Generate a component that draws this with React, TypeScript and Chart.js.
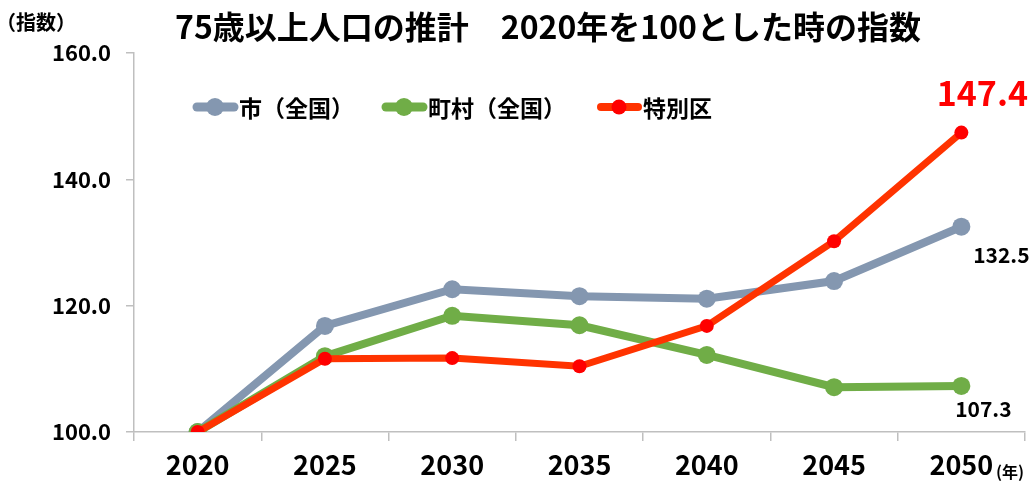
import React, { useEffect, useRef } from "react";
import { Chart, registerables } from "chart.js";
Chart.register(...registerables);

const years = ["2020", "2025", "2030", "2035", "2040", "2045", "2050"];
const cityValues = [100, 116.8, 122.6, 121.5, 121.1, 123.9, 132.5];
const townValues = [100, 112.0, 118.4, 116.9, 112.2, 107.1, 107.3];
const wardValues = [100, 111.6, 111.7, 110.4, 116.8, 130.2, 147.4];
const seriesNames = ["市（全国）", "町村（全国）", "特別区"];
const titleText = "75歳以上人口の推計　2020年を100とした時の指数";
const yUnitText = "（指数）";
const xUnitText = "(年)";

const FONT = "'Noto Sans CJK JP', 'Noto Sans', sans-serif";
const BLUE = "#8497b0";
const GREEN = "#70ad47";
const RED_LINE = "#ff3300";
const RED_PT = "#ff0000";
const AXIS = "#bfbfbf";

export default function App() {
  const ref = useRef<HTMLCanvasElement | null>(null);
  useEffect(() => {
    document.body.style.margin = "0";
    const canvas = ref.current;
    if (!canvas) return;

    const overlay = {
      id: "overlay",
      afterDraw(chart: any) {
        const ctx = chart.ctx;
        const xs = chart.scales.x;
        const ys = chart.scales.y;
        ctx.save();
        ctx.fillStyle = "#000";
        ctx.textBaseline = "middle";
        // title
        ctx.font = `bold 32px ${FONT}`;
        ctx.textAlign = "left";
        ctx.fillText(titleText, 175, 27);
        // y unit
        ctx.font = `bold 20px ${FONT}`;
        ctx.fillText(yUnitText, -4, 22);
        // x unit
        ctx.font = `bold 16px ${FONT}`;
        ctx.fillText(xUnitText, 996, 472);

        // legend
        const legend = [
          { x: 193, color: BLUE, pt: BLUE, r: 9, w: 9 },
          { x: 382, color: GREEN, pt: GREEN, r: 9, w: 9 },
          { x: 597, color: RED_LINE, pt: RED_PT, r: 7.5, w: 8 },
        ];
        const ly = 107;
        legend.forEach((l, i) => {
          ctx.strokeStyle = l.color;
          ctx.lineWidth = l.w;
          ctx.lineCap = "round";
          ctx.beginPath();
          ctx.moveTo(l.x + 4, ly);
          ctx.lineTo(l.x + 41, ly);
          ctx.stroke();
          ctx.fillStyle = l.pt;
          ctx.beginPath();
          ctx.arc(l.x + 22, ly, l.r, 0, Math.PI * 2);
          ctx.fill();
          ctx.fillStyle = "#000";
          ctx.font = `bold 23px ${FONT}`;
          ctx.textAlign = "left";
          ctx.fillText(seriesNames[i], l.x + 46, ly + 1);
        });

        // data labels at last point
        const li = years.length - 1;
        const px = xs.getPixelForValue(li);
        ctx.textAlign = "center";
        ctx.fillStyle = RED_PT;
        ctx.font = `bold 34px ${FONT}`;
        ctx.fillText(wardValues[li].toFixed(1), px + 21, ys.getPixelForValue(wardValues[li]) - 40);
        ctx.fillStyle = "#000";
        ctx.font = `bold 21px ${FONT}`;
        ctx.fillText(cityValues[li].toFixed(1), px + 40, ys.getPixelForValue(cityValues[li]) + 28);
        ctx.fillText(townValues[li].toFixed(1), px + 22, ys.getPixelForValue(townValues[li]) + 23);
        ctx.restore();
      },
    };

    const chart = new Chart(canvas, {
      type: "line",
      data: {
        labels: years,
        datasets: [
          {
            label: seriesNames[0],
            data: cityValues,
            borderColor: BLUE,
            backgroundColor: BLUE,
            borderWidth: 8,
            pointRadius: 9,
            pointBorderWidth: 0,
            pointBackgroundColor: BLUE,
            order: 3,
          },
          {
            label: seriesNames[1],
            data: townValues,
            borderColor: GREEN,
            backgroundColor: GREEN,
            borderWidth: 8,
            pointRadius: 9,
            pointBorderWidth: 0,
            pointBackgroundColor: GREEN,
            order: 2,
          },
          {
            label: seriesNames[2],
            data: wardValues,
            borderColor: RED_LINE,
            backgroundColor: RED_PT,
            borderWidth: 7,
            pointRadius: 7,
            pointBorderWidth: 0,
            pointBackgroundColor: RED_PT,
            order: 1,
          },
        ],
      },
      options: {
        responsive: false,
        animation: false,
        layout: { padding: { top: 53, right: 8, left: 0, bottom: 0 } },
        plugins: {
          legend: { display: false },
          title: { display: false },
          tooltip: { enabled: false },
        },
        scales: {
          x: {
            type: "category",
            offset: true,
            grid: {
              offset: true,
              drawOnChartArea: false,
              drawTicks: true,
              tickLength: 9,
              color: AXIS,
              lineWidth: 1.5,
            },
            border: { color: AXIS, width: 1.5 },
            ticks: {
              color: "#000",
              font: { family: FONT, size: 27, weight: "bold" },
              padding: 8,
              maxRotation: 0,
            },
            afterFit: (s: any) => {
              s.height = 52;
            },
          },
          y: {
            min: 100,
            max: 160,
            grid: {
              drawOnChartArea: false,
              drawTicks: true,
              tickLength: 8,
              color: AXIS,
              lineWidth: 1.5,
            },
            border: { color: AXIS, width: 1.5 },
            ticks: {
              stepSize: 20,
              color: "#000",
              font: { family: FONT, size: 22, weight: "bold" },
              padding: 15,
              callback: (v: any) => Number(v).toFixed(1),
            },
            afterFit: (s: any) => {
              s.width = 134;
            },
          },
        },
      },
      plugins: [overlay],
    });
    return () => chart.destroy();
  }, []);

  return (
    <div style={{ width: 1034, height: 484, background: "#fff" }}>
      <canvas ref={ref} width={1034} height={484} style={{ display: "block" }} />
    </div>
  );
}
